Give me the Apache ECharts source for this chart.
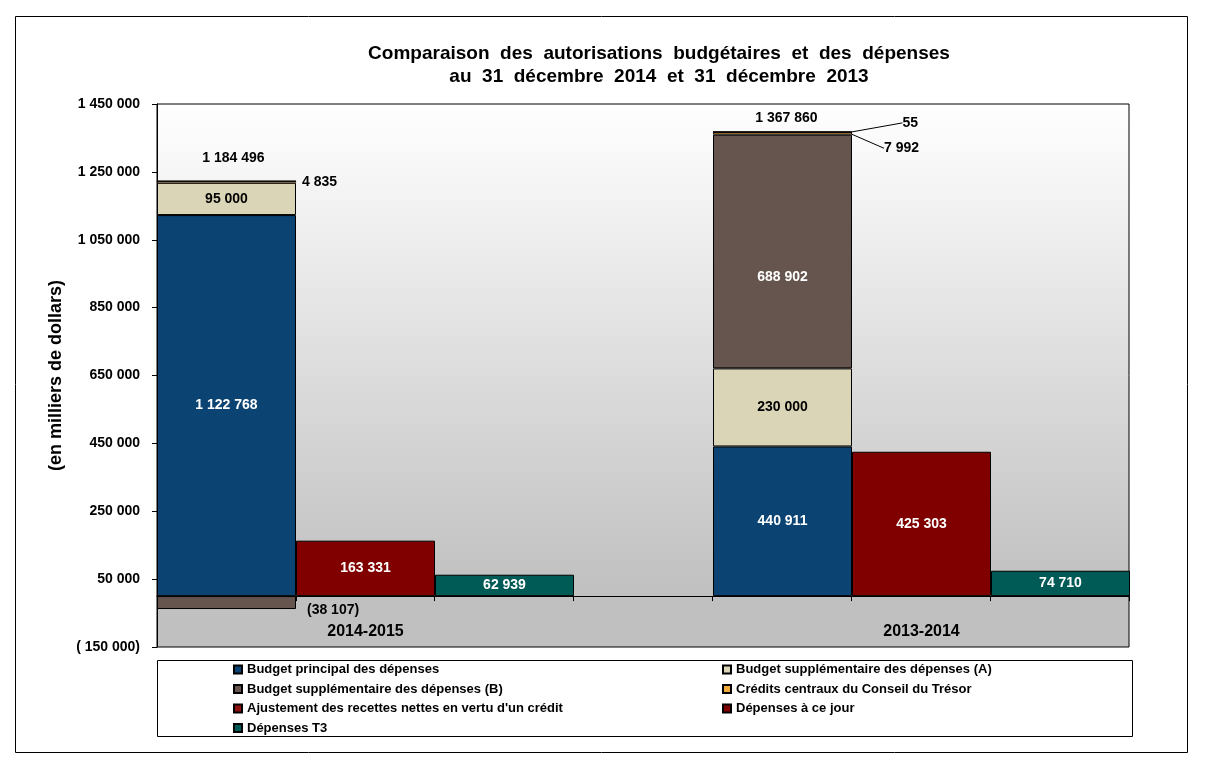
<!DOCTYPE html>
<html>
<head>
<meta charset="utf-8">
<title>Comparaison des autorisations budgétaires et des dépenses</title>
<script src="https://cdn.jsdelivr.net/npm/echarts@6/dist/echarts.min.js"></script>
<style>
  html, body { margin: 0; padding: 0; background: #fff; }
  #chart { width: 1214px; height: 769px; }
</style>
</head>
<body>
<div id="chart"></div>
<script>
// valeurs en milliers de dollars
const categories = ['2014-2015', '2013-2014']
const budgetPrincipal = [1122768, 440911]
const budgetSuppA = [95000, 230000]
const budgetSuppB = [-38107, 688902]
const creditsCentraux = [4835, 7992]
const ajustementRecettes = [0, 55]
const totalAutorisations = [1184496, 1367860]
const depensesCeJour = [163331, 425303]
const depensesT3 = [62939, 74710]
const yTicks = { min: -150000, max: 1450000, step: 200000 }

const FONT = '"Liberation Sans", Arial, sans-serif'

const names = {
    principal: 'Budget principal des dépenses',
    suppA: 'Budget supplémentaire des dépenses (A)',
    suppB: 'Budget supplémentaire des dépenses (B)',
    credits: 'Crédits centraux du Conseil du Trésor',
    ajust: "Ajustement des recettes nettes en vertu d'un crédit",
    depenses: 'Dépenses à ce jour',
    t3: 'Dépenses T3'
}

function groupDigits(v) {
    return String(Math.abs(v)).replace(/\B(?=(\d{3})+(?!\d))/g, ' ')
}

function fmtValue(v) {
    return v < 0 ? '(' + groupDigits(v) + ')' : groupDigits(v)
}

function fmtAxis(v) {
    return v < 0 ? '( ' + groupDigits(v) + ')' : groupDigits(v)
}

const labelBase = {
    show: true,
    fontFamily: FONT,
    fontWeight: 'bold',
    fontSize: 14,
    color: '#fff',
    formatter: (p) => fmtValue(p.value)
}

const barStyle = (color) => ({ color: color, borderColor: '#000', borderWidth: 1 })

function barSeries(name, values, color, stack, extra) {
    return Object.assign({
        name: name,
        type: 'bar',
        xAxisIndex: 1,
        yAxisIndex: 1,
        stack: stack,
        barGap: '0%',
        barCategoryGap: '25%',
        itemStyle: barStyle(color),
        label: Object.assign({}, labelBase, { position: 'inside' }),
        data: values
    }, extra || {})
}

const series = [
    // dummy series carrying the plot frame (grid 0)
    {
        type: 'line', xAxisIndex: 0, yAxisIndex: 0, data: [], silent: true
    },
    barSeries(names.principal, budgetPrincipal, '#0B4373', 'auth'),
    barSeries(names.suppA, budgetSuppA, '#D9D5B6', 'auth', {
        label: Object.assign({}, labelBase, { position: 'inside', color: '#000' })
    }),
    barSeries(names.suppB, budgetSuppB.map((v, i) => ({
        value: v,
        label: i === 0
            ? { position: 'right', offset: [6, 8], color: '#000' }
            : { position: 'inside', offset: [0, 26] }
    })), '#66554E', 'auth'),
    barSeries(names.credits, creditsCentraux.map((v, i) => ({
        value: v,
        itemStyle: i === 0 ? { borderWidth: 0.5 } : {},
        label: { position: 'right', distance: 6, offset: i === 0 ? [2, 1] : [0, 0] },
        labelLine: { show: i === 1 }
    })), '#F2A93B', 'auth', {
        label: Object.assign({}, labelBase, { color: '#000' }),
        labelLayout: (p) => p.dataIndex === 1 ? { dx: 26, dy: 15 } : {},
        labelLine: { show: true, lineStyle: { color: '#000', width: 1 } }
    }),
    barSeries(names.ajust, ajustementRecettes.map((v, i) => ({
        value: v,
        label: { show: i === 1, position: 'right', distance: 6 },
        labelLine: { show: i === 1 }
    })), '#8E1010', 'auth', {
        label: Object.assign({}, labelBase, { color: '#000' }),
        labelLayout: (p) => p.dataIndex === 1 ? { dx: 44, dy: -9 } : {},
        labelLine: { show: true, lineStyle: { color: '#000', width: 1 } }
    }),
    // total label on top of the authorisation stack
    barSeries('total', [0, 0].map((v, i) => ({
        value: v,
        label: {
            position: 'top',
            distance: i === 0 ? 16 : 7,
            offset: i === 0 ? [7, 0] : [4, 0],
            formatter: () => fmtValue(totalAutorisations[i])
        }
    })), 'rgba(0,0,0,0)', 'auth', {
        itemStyle: { color: 'rgba(0,0,0,0)', borderWidth: 0 },
        label: Object.assign({}, labelBase, { color: '#000' }),
        silent: true
    }),
    barSeries(names.depenses, depensesCeJour, '#800000', 'dep'),
    barSeries(names.t3, depensesT3, '#005A56', 't3')
]

const legendText = { fontFamily: FONT, fontWeight: 'bold', fontSize: 13, color: '#000' }
const legendCommon = {
    orient: 'vertical',
    top: 662,
    padding: 0,
    itemWidth: 8,
    itemHeight: 8,
    itemGap: 4.5,
    icon: 'rect',
    textStyle: Object.assign({}, legendText, { lineHeight: 15 }),
    selectedMode: false
}

const chart = echarts.init(document.getElementById('chart'))

chart.setOption({
    backgroundColor: '#fff',
    animation: false,
    textStyle: { fontFamily: FONT },
    graphic: [
        {
            type: 'rect', silent: true,
            shape: { x: 15.5, y: 16.5, width: 1172, height: 736 },
            style: { fill: 'none', stroke: '#000', lineWidth: 1 }
        },
        {
            type: 'rect', silent: true,
            shape: { x: 157.5, y: 660.5, width: 975, height: 76 },
            style: { fill: 'none', stroke: '#000', lineWidth: 1 }
        },
        {
            type: 'text', silent: true,
            x: 659, y: 42,
            style: {
                text: 'Comparaison  des  autorisations  budgétaires  et  des  dépenses\nau  31  décembre  2014  et  31  décembre  2013',
                font: 'bold 19px ' + FONT,
                lineHeight: 23,
                textAlign: 'center',
                fill: '#000'
            }
        }
    ],
    legend: [
        Object.assign({}, legendCommon, {
            left: 233,
            data: [names.principal, names.suppB, names.ajust, names.t3]
        }),
        Object.assign({}, legendCommon, {
            left: 722,
            data: [names.suppA, names.credits, names.depenses]
        })
    ],
    grid: [
        {
            // plot frame
            left: 157, right: 85, top: 104, bottom: 122,
            show: true,
            borderColor: '#000',
            borderWidth: 1,
            backgroundColor: {
                type: 'linear', x: 0, y: 0, x2: 0, y2: 1,
                colorStops: [
                    { offset: 0, color: '#ffffff' },
                    { offset: 0.9, color: '#c0c0c0' },
                    { offset: 1, color: '#c0c0c0' }
                ]
            }
        },
        {
            // bars: groups sit half a slot beyond the frame on each side
            left: 87.5, right: 14.5, top: 104, bottom: 122
        }
    ],
    xAxis: [
        {
            gridIndex: 0,
            type: 'value',
            min: 0, max: 7, interval: 1,
            axisLine: { show: true, onZero: true, lineStyle: { color: '#000', width: 1 } },
            axisTick: { show: true, length: 5, lineStyle: { color: '#000' } },
            axisLabel: { show: false },
            splitLine: { show: false }
        },
        {
            gridIndex: 1,
            type: 'category',
            data: categories,
            position: 'bottom',
            axisLine: { show: false, onZero: false },
            axisTick: { show: false },
            axisLabel: {
                margin: -23,
                fontFamily: FONT,
                fontWeight: 'bold',
                fontSize: 16,
                color: '#000',
                formatter: (v) => v
            },
            splitLine: { show: false }
        }
    ],
    yAxis: [
        {
            gridIndex: 0,
            type: 'value',
            min: yTicks.min,
            max: yTicks.max,
            interval: yTicks.step,
            name: '(en milliers de dollars)',
            nameLocation: 'middle',
            nameRotate: 90,
            nameGap: 82,
            nameTextStyle: { fontFamily: FONT, fontWeight: 'bold', fontSize: 18, color: '#000' },
            axisLine: { show: true, onZero: false, lineStyle: { color: '#000', width: 1 } },
            axisTick: { show: true, length: 5, lineStyle: { color: '#000' } },
            axisLabel: {
                margin: 17,
                fontFamily: FONT,
                fontWeight: 'bold',
                fontSize: 14,
                color: '#000',
                formatter: fmtAxis
            },
            splitLine: { show: false }
        },
        {
            gridIndex: 1,
            type: 'value',
            show: false,
            min: yTicks.min,
            max: yTicks.max,
            interval: yTicks.step,
            splitLine: { show: false }
        }
    ],
    series: series
})

window.addEventListener('resize', () => chart.resize())
</script>
</body>
</html>
